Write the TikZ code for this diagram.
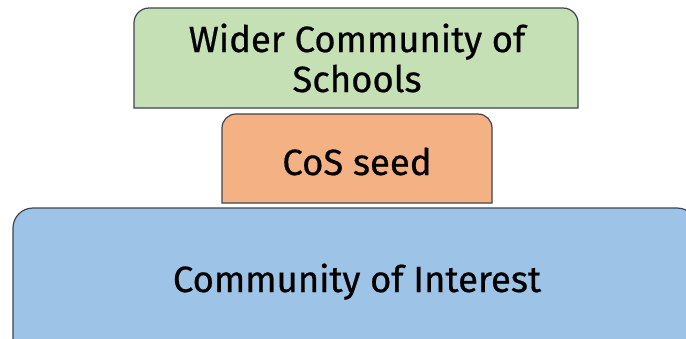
\documentclass[tikz,border=0pt]{standalone}
\usepackage{fontspec}
\setmainfont{Fira Sans}[UprightFeatures={FakeBold=0.6}]
\definecolor{gfill}{HTML}{C5E0B4}
\definecolor{ofill}{HTML}{F4B183}
\definecolor{bfill}{HTML}{9DC3E6}
\definecolor{edge}{HTML}{3F4550}
\tikzset{
  layer/.style={draw=edge, line width=1.2pt},
  lbl/.style={font=\fontsize{36.5}{41}\selectfont, text=black, inner sep=0pt, anchor=base}
}
\begin{document}
\begin{tikzpicture}[x=1pt,y=-1pt]
\useasboundingbox (0,0) rectangle (686,338);
\clip (0,0) rectangle (686,338);
\fill[white] (0,0) rectangle (686,338);
% green
\filldraw[layer, fill=gfill] (134,108) [rounded corners=15pt] -- (134,8) -- (578,8) [sharp corners] -- (578,108) -- cycle;
% orange
\filldraw[layer, fill=ofill] (222,203) [rounded corners=14pt] -- (222,114) -- (492,114) [sharp corners] -- (492,203) -- cycle;
% blue
\filldraw[layer, fill=bfill] (13,350) [rounded corners=20pt] -- (13,208) -- (697,208) [sharp corners] -- (697,350) -- cycle;
\node[lbl] (wider) at (357,52) {Wider Community of};
\node[lbl] (schools) at (357,92) {Schools};
\node[lbl] (seed) at (357,175) {CoS seed};
\node[lbl] (interest) at (357,292) {Community of Interest};
\end{tikzpicture}
\end{document}
